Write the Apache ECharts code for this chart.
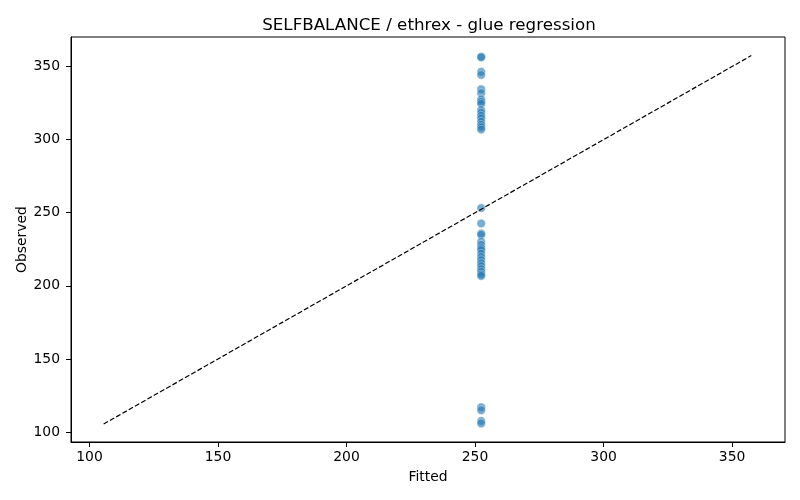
<!DOCTYPE html>
<html>
<head>
<meta charset="utf-8">
<script src="https://cdn.jsdelivr.net/npm/echarts@6/dist/echarts.min.js"></script>
<style>html,body{margin:0;padding:0;background:#fff;}#c{width:800px;height:500px;}</style>
</head>
<body>
<div id="c"></div>
<script>
var titleText = 'SELFBALANCE / ethrex - glue regression';
var xTicks = [100, 150, 200, 250, 300, 350];
var yTicks = [100, 150, 200, 250, 300, 350];
var observed = [356.7, 356.4, 346.4, 344.2, 334.5, 331.8, 327.5, 326.0, 324.5, 320.3, 318.5, 316.4, 314.6, 312.3, 310.2, 308.5, 306.9,
  253.2, 242.7, 235.8, 235.0, 230.3, 228.0, 225.8, 224.4, 222.0, 219.8, 217.6, 215.4, 213.5, 211.4, 209.6, 207.8, 206.8,
  117.0, 114.9, 107.6, 105.9];
var fitted = [252.4, 252.4, 252.4, 252.4, 252.4, 252.4, 252.4, 252.4, 252.4, 252.4, 252.4, 252.4, 252.4, 252.4, 252.4, 252.4, 252.4,
  252.4, 252.4, 252.4, 252.4, 252.4, 252.4, 252.4, 252.4, 252.4, 252.4, 252.4, 252.4, 252.4, 252.4, 252.4, 252.4, 252.4,
  252.4, 252.4, 252.4, 252.4];
var refLine = [105.5, 357.5];

var pts = fitted.map(function (f, i) { return [f, observed[i]]; });
var font = 'DejaVu Sans';
var chart = echarts.init(document.getElementById('c'), null, {renderer: 'canvas'});
chart.setOption({
  animation: false,
  backgroundColor: '#fff',
  title: {
    text: titleText, left: 424, top: 12, textAlign: 'center',
    textStyle: {fontFamily: font, fontSize: 16.7, fontWeight: 'normal', color: '#000'}
  },
  grid: {left: 71, right: 15, top: 37, bottom: 58, show: true, borderColor: '#000', borderWidth: 1, backgroundColor: 'transparent'},
  xAxis: {
    type: 'value', min: 92.8, max: 370.6,
    name: 'Fitted', nameLocation: 'middle', nameGap: 28, nameMoveOverlap: false,
    nameTextStyle: {fontFamily: font, fontSize: 13.9, color: '#000'},
    axisLine: {show: true, onZero: false, lineStyle: {color: '#000', width: 1}},
    axisTick: {show: true, inside: false, length: 5, lineStyle: {color: '#000'}, customValues: xTicks},
    axisLabel: {fontFamily: font, fontSize: 13.9, color: '#000', margin: 8, customValues: xTicks},
    splitLine: {show: false}
  },
  yAxis: {
    type: 'value', min: 93.2, max: 370.2,
    name: 'Observed', nameLocation: 'middle', nameGap: 42, nameMoveOverlap: false,
    nameTextStyle: {fontFamily: font, fontSize: 13.9, color: '#000'},
    axisLine: {show: true, onZero: false, lineStyle: {color: '#000', width: 1}},
    axisTick: {show: true, inside: false, length: 5, lineStyle: {color: '#000'}, customValues: yTicks},
    axisLabel: {fontFamily: font, fontSize: 13.9, color: '#000', margin: 11, customValues: yTicks},
    splitLine: {show: false}
  },
  series: [
    {
      type: 'scatter', data: pts, symbolSize: 8.5,
      itemStyle: {color: 'rgba(31,119,180,0.75)', borderColor: 'rgba(255,255,255,0.8)', borderWidth: 0.5},
      z: 3
    },
    {
      type: 'line', data: [[refLine[0], refLine[0]], [refLine[1], refLine[1]]],
      symbol: 'none', silent: true,
      lineStyle: {color: '#000', width: 1.2, type: [5, 2.2]},
      z: 4
    }
  ]
});
</script>
</body>
</html>
